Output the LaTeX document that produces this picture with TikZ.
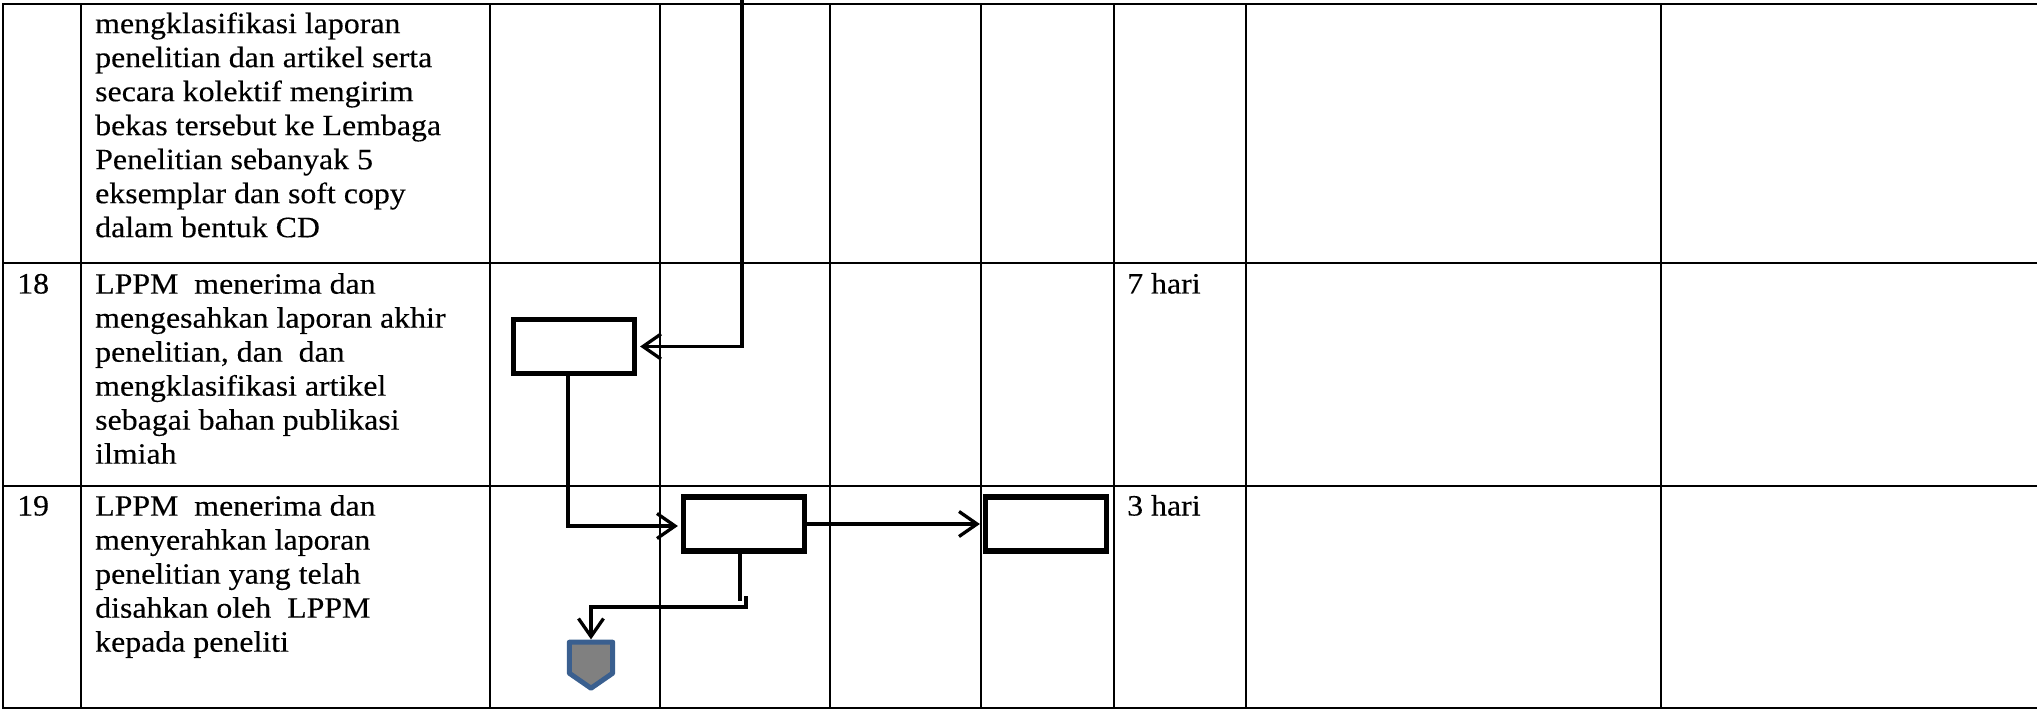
\documentclass[tikz,border=0pt]{standalone}
\usepackage{fontspec}
\setmainfont{Liberation Serif}[FakeStretch=1.08,FakeBold=0.3]
\usetikzlibrary{arrows.meta,calc}
\definecolor{shapeblue}{HTML}{3A5F8F}
\definecolor{shapegray}{HTML}{808080}
\begin{document}
\begin{tikzpicture}[x=1pt,y=-1pt,
  grid/.style={line width=2.6pt, line cap=rect},
  txt/.style={font=\fontsize{29.5}{34}\selectfont, inner sep=0pt, anchor=north west, align=left},
  one/.style={font=\fontsize{29.5}{34}\selectfont, inner sep=0pt, anchor=base west},
  procbox/.style={draw, line width=5.6pt, minimum width=121pt, minimum height=54pt, inner sep=0pt},
  conn/.style={line width=3.3pt},
  arr/.style={conn, -{Straight Barb[length=18pt,width=25pt]}, shorten >=2.8pt},
  pentline/.style={draw=shapeblue, fill=shapegray, line width=5pt, line join=round}
]
\useasboundingbox (0,0) rectangle (2037,711);

% table grid
\foreach \y in {4,263,486,708} \draw[grid] (3,\y) -- (2037,\y);
\foreach \x in {3,81,490,660,830,981,1114,1246,1661} \draw[grid] (\x,4) -- (\x,708);

% texts
\node[txt] (t17) at (95,9.2) {\strut mengklasifikasi laporan\\penelitian dan artikel serta\\secara kolektif mengirim\\bekas tersebut ke Lembaga\\Penelitian sebanyak 5\\eksemplar dan soft copy\\dalam bentuk CD};
\node[one] (n18) at (17,293.5) {18};
\node[txt] (t18) at (95,269.7) {\strut LPPM\ \ menerima dan\\mengesahkan laporan akhir\\penelitian, dan\ \ dan\\mengklasifikasi artikel\\sebagai bahan publikasi\\ilmiah};
\node[one] (d18) at (1127,293.5) {7 hari};
\node[one] (n19) at (17,515.5) {19};
\node[txt] (t19) at (95,491.7) {\strut LPPM\ \ menerima dan\\menyerahkan laporan\\penelitian yang telah\\disahkan oleh\ \ LPPM\\kepada peneliti};
\node[one] (d19) at (1127,515.5) {3 hari};

% process boxes
\node[procbox] (b1) at (574,346.5) {};
\node[procbox] (b2) at (744,524) {};
\node[procbox] (b3) at (1046,524) {};

% off-page connector
\node[inner sep=0pt, minimum width=43pt, minimum height=45.6pt] (pent) at (591,665.2) {};
\draw[pentline] (pent.north west) -- (pent.north east) -- ([yshift=15pt]pent.south east)
  -- (pent.south) -- ([yshift=15pt]pent.south west) -- cycle;

% connectors
\coordinate (inTop) at (742,0);
\draw[arr] (inTop) |- (b1.east);
\draw[arr] ([xshift=-6pt]b1.south) |- ([yshift=-2pt]b2.west);
\draw[arr] (b2.east) -- (b3.west);
\coordinate (j1) at (740,601);
\draw[conn] ([xshift=-4pt]b2.south) -- (j1);
\coordinate (j2) at (746,596);
\coordinate (j3) at (746,607);
\draw[arr] (j2) -- (j3) -| (pent.north);
\end{tikzpicture}
\end{document}
